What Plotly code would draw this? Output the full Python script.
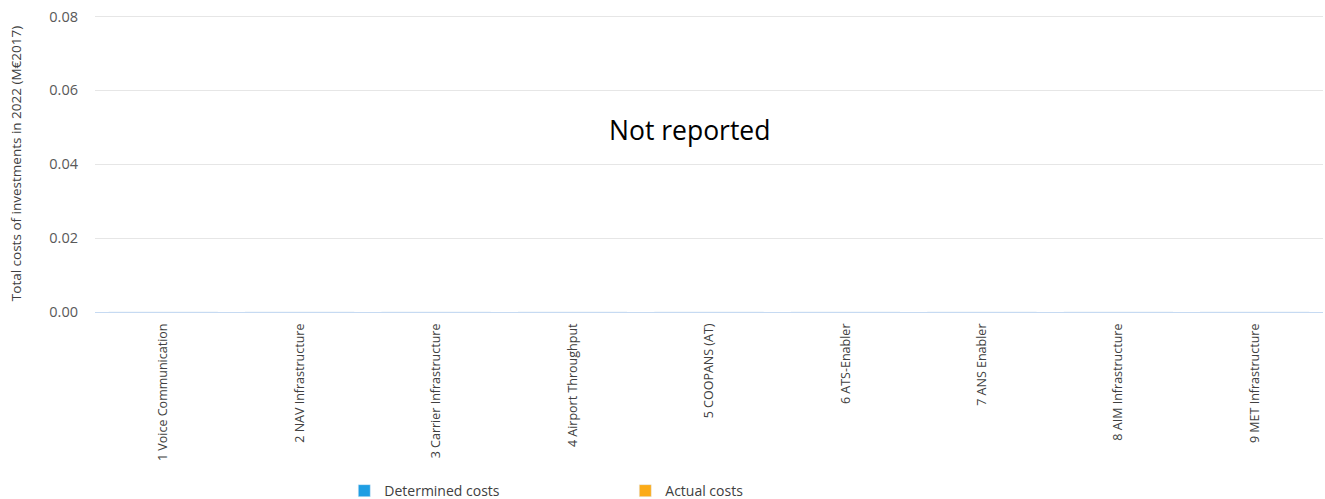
import plotly.graph_objects as go

# investment categories (nothing reported for 2022)
categories = ["1 Voice Communication", "2 NAV Infrastructure", "3 Carrier Infrastructure",
              "4 Airport Throughput", "5 COOPANS (AT)", "6 ATS-Enabler", "7 ANS Enabler",
              "8 AIM Infrastructure", "9 MET Infrastructure"]
determined = [0, 0, 0, 0, 0, 0, 0, 0, 0]
actual = [0, 0, 0, 0, 0, 0, 0, 0, 0]

font_fam = "Open Sans, Noto Sans, sans-serif"

fig = go.Figure()
fig.add_trace(go.Bar(x=categories, y=determined, name="Determined costs", marker_color="#1f9ee3"))
fig.add_trace(go.Bar(x=categories, y=actual, name="Actual costs", marker_color="#fbab18"))

fig.add_annotation(text="Not reported", x=0.4845, y=0.613, xref="paper", yref="paper",
                   showarrow=False, font=dict(size=26.5, color="#000000", family=font_fam))

fig.update_layout(
    width=1325, height=499,
    margin=dict(l=95, r=2, t=15, b=187, autoexpand=False),
    plot_bgcolor="white", paper_bgcolor="white",
    font=dict(family=font_fam, size=13, color="#595959"),
    barmode="group",
    showlegend=True,
    legend=dict(orientation="h", x=0.203, xanchor="left", y=-0.549, yanchor="top",
                entrywidth=236, entrywidthmode="pixels",
                font=dict(size=14, color="#404040"), itemwidth=30),
    xaxis=dict(tickangle=-90, showgrid=False, showline=False, ticks="",
               ticklabelstandoff=8, tickfont=dict(size=12.5, color="#404040")),
    # a bit of headroom so the 0.08 gridline is drawn below the top edge
    yaxis=dict(range=[0, 0.0804], dtick=0.02, tickformat=".2f", showgrid=True,
               gridcolor="#e6e6e6", zeroline=True, zerolinecolor="#c6daf2", zerolinewidth=1,
               ticks="", ticklabelstandoff=16,
               title=dict(text="Total costs of investments in 2022 (M€2017)", standoff=24,
                          font=dict(size=13.5, color="#404040")),
               tickfont=dict(size=14.5, color="#595959")),
)

# drop the browser's default body margin so the figure sits at the page corner
fig.write_html("out.html", config={"displayModeBar": False},
               post_script="document.body.style.margin='0';document.body.style.overflow='hidden';")
